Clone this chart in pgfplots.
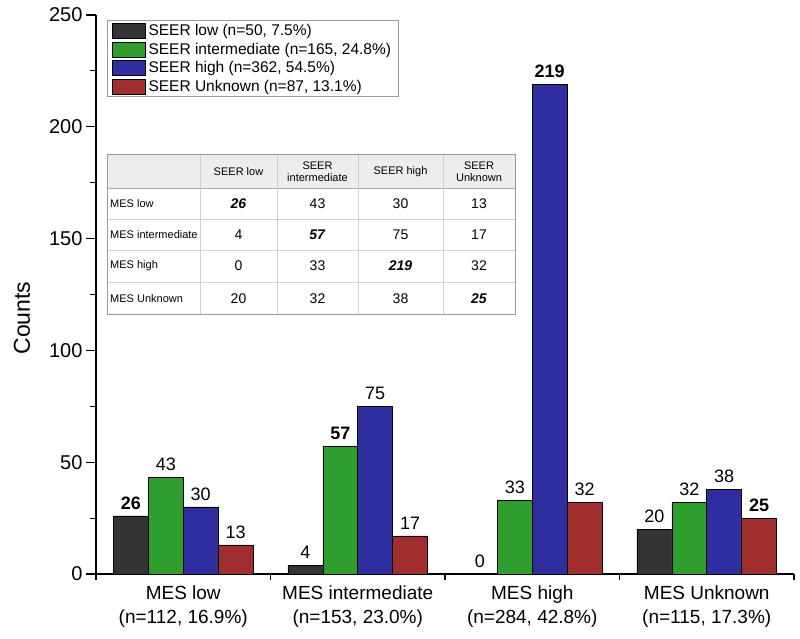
\documentclass[border=0pt]{standalone}
\usepackage{pgfplots}
\pgfplotsset{compat=1.18}
\usepackage{fontspec}
\setmainfont{Liberation Sans}

\definecolor{seerlow}{HTML}{333333}
\definecolor{seerint}{HTML}{2E9E2E}
\definecolor{seerhigh}{HTML}{2E2EA0}
\definecolor{seerunk}{HTML}{A02E2E}
\definecolor{tabhead}{HTML}{EDEDED}
\definecolor{tabgrid}{HTML}{CFCFCF}
\definecolor{tabframe}{HTML}{9A9A9A}

\pgfplotsset{
  boxlegend/.style={legend image code/.code={\draw[##1,draw=black,line width=0.6pt] (0pt,-7.5pt) rectangle (33pt,7.5pt);}},
}

\begin{document}
\begin{tikzpicture}[x=1pt,y=1pt]
\useasboundingbox (0,0) rectangle (800,639);
\begin{axis}[
  at={(96pt,65pt)}, anchor=south west,
  scale only axis, width=698pt, height=559pt,
  xmin=-0.5, xmax=3.5, ymin=0, ymax=250,
  axis lines=left,
  axis line style={-, line width=1.3pt},
  tick align=outside,
  major tick length=10pt, minor tick length=6pt,
  tick style={black, line width=1.1pt},
  xtick={0,1,2,3},
  xticklabels={{MES low\\(n=112, 16.9\%)},{MES intermediate\\(n=153, 23.0\%)},{MES high\\(n=284, 42.8\%)},{MES Unknown\\(n=115, 17.3\%)}},
  minor xtick={-0.5,0.5,1.5,2.5,3.5},
  major x tick style={draw=none},
  xticklabel style={align=center, font=\fontsize{19}{24}\selectfont, yshift=2pt},
  ytick={0,50,100,150,200,250},
  minor ytick={25,75,125,175,225},
  yticklabel style={font=\fontsize{20}{24}\selectfont},
  /pgf/number format/assume math mode=true,
  ylabel={Counts},
  ylabel style={font=\fontsize{23}{27}\selectfont, at={(axis description cs:-0.106,0.458)}, anchor=center},
  ybar, bar width=0.2,
  point meta=explicit symbolic,
  nodes near coords,
  every node near coord/.append style={font=\fontsize{18}{21}\selectfont, black, yshift=3pt},
  legend style={at={(axis description cs:0.0158,0.991)}, anchor=north west,
    draw=tabframe, line width=0.8pt, font=\fontsize{15.5}{18}\selectfont,
    inner xsep=5pt, inner ysep=2.5pt, row sep=3pt,
    nodes={inner xsep=2.5pt, inner ysep=0.6pt}},
  legend cell align=left,
  clip=false,
]
\addplot[boxlegend, fill=seerlow, draw=black, line width=0.7pt, bar shift=-0.3] coordinates {
  (0,26) [\textbf{26}] (1,4) [4] (2,0) [0] (3,20) [20]};
\addlegendentry{SEER low (n=50, 7.5\%)}
\addplot[boxlegend, fill=seerint, draw=black, line width=0.7pt, bar shift=-0.1] coordinates {
  (0,43) [43] (1,57) [\textbf{57}] (2,33) [33] (3,32) [32]};
\addlegendentry{SEER intermediate (n=165, 24.8\%)}
\addplot[boxlegend, fill=seerhigh, draw=black, line width=0.7pt, bar shift=0.1] coordinates {
  (0,30) [30] (1,75) [75] (2,219) [\textbf{219}] (3,38) [38]};
\addlegendentry{SEER high (n=362, 54.5\%)}
\addplot[boxlegend, fill=seerunk, draw=black, line width=0.7pt, bar shift=0.3] coordinates {
  (0,13) [13] (1,17) [17] (2,32) [32] (3,25) [\textbf{25}]};
\addlegendentry{SEER Unknown (n=87, 13.1\%)}
\end{axis}

% inset table
\fill[tabhead] (107,451) rectangle (515,484);
\foreach \yy in {420,389,357} \draw[tabgrid, line width=0.8pt] (107,\yy) -- (515,\yy);
\draw[tabframe!80, line width=0.8pt] (107,451) -- (515,451);
\foreach \xx in {200,277,358,443} \draw[tabgrid, line width=0.8pt] (\xx,324) -- (\xx,484);
\draw[tabframe, line width=1pt] (107,324) rectangle (515,484);

\begin{scope}[every node/.style={font=\fontsize{11}{12.5}\selectfont, align=center, inner sep=0pt}]
\node at (238.5,467.5) {SEER low};
\node at (317.5,467.5) {SEER\\intermediate};
\node at (400.5,467.5) {SEER high};
\node at (479,467.5) {SEER\\Unknown};
\node[anchor=west] at (110,435.5) {MES low};
\node[anchor=west] at (110,404.5) {MES intermediate};
\node[anchor=west] at (110,373) {MES high};
\node[anchor=west] at (110,340.5) {MES Unknown};
\end{scope}

\begin{scope}[every node/.style={font=\fontsize{14}{16}\selectfont, inner sep=0pt}]
\node at (238.5,435.5) {\textbf{\textit{26}}};
\node at (317.5,435.5) {43};
\node at (400.5,435.5) {30};
\node at (479,435.5) {13};
\node at (238.5,404.5) {4};
\node at (317.5,404.5) {\textbf{\textit{57}}};
\node at (400.5,404.5) {75};
\node at (479,404.5) {17};
\node at (238.5,373) {0};
\node at (317.5,373) {33};
\node at (400.5,373) {\textbf{\textit{219}}};
\node at (479,373) {32};
\node at (238.5,340.5) {20};
\node at (317.5,340.5) {32};
\node at (400.5,340.5) {38};
\node at (479,340.5) {\textbf{\textit{25}}};
\end{scope}
\end{tikzpicture}
\end{document}
